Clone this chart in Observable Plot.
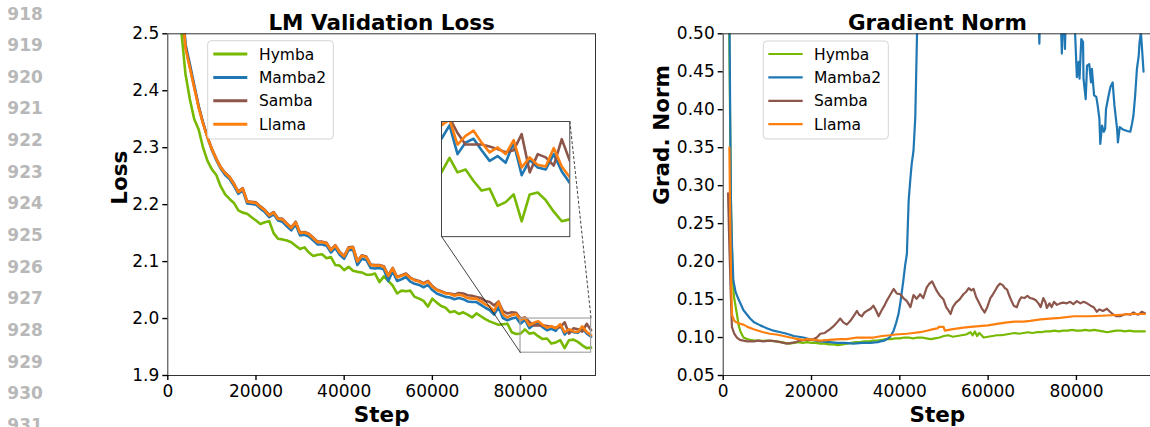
<!DOCTYPE html>
<html><head><meta charset="utf-8">
<script src="https://cdn.jsdelivr.net/npm/d3@7"></script>
<script src="https://cdn.jsdelivr.net/npm/@observablehq/plot@0.6"></script>
<style>
html,body{margin:0;padding:0;background:#fff;}
#root{position:relative;width:1150px;height:427px;overflow:hidden;background:#fff;font-family:"DejaVu Sans",sans-serif;}
#root > svg, #root > div{position:absolute;}
</style></head><body><div id="root"></div><script>
// ---------------- data ----------------
const seriesNames = ["Hymba", "Mamba2", "Samba", "Llama"];
const seriesColors = ["#76b900", "#1f77b4", "#8c564b", "#ff7f0e"];
const lineNumbers = ["918","919","920","921","922","923","924","925","926","927","928","929","930","931"];

const lossTitle = "LM Validation Loss";
const gnTitle = "Gradient Norm";
const xLabel = "Step";
const lossYLabel = "Loss";
const gnYLabel = "Grad. Norm";

const lossSteps = [
  1000,2000,3000,4000,5000,6000,7000,8000,9000,10000,
  11000,12000,13000,14000,15000,16000,17000,18000,19000,20000,
  21000,22000,23000,24000,25000,26000,27000,28000,29000,30000,
  31000,32000,33000,34000,35000,36000,37000,38000,39000,40000,
  41000,42000,43000,44000,45000,46000,47000,48000,49000,50000,
  51000,52000,53000,54000,55000,56000,57000,58000,59000,60000,
  61000,62000,63000,64000,65000,66000,67000,68000,69000,70000,
  71000,72000,73000,74000,75000,76000,77000,78000,79000,80000,
  81000,82000,83000,84000,85000,86000,87000,88000,89000,90000,
  91000,92000,93000,94000,95000,96000];
const lossHymba = [
  3.40,2.75,2.51,2.43,2.385,2.35,2.332,2.30,2.277,2.262,
  2.252,2.232,2.218,2.21,2.203,2.19,2.186,2.184,2.178,2.172,
  2.166,2.169,2.171,2.15,2.14,2.139,2.137,2.134,2.128,2.122,
  2.125,2.116,2.11,2.112,2.113,2.106,2.108,2.094,2.093,2.085,
  2.091,2.084,2.082,2.081,2.077,2.077,2.079,2.064,2.074,2.066,
  2.058,2.044,2.049,2.048,2.049,2.038,2.035,2.031,2.021,2.035,
  2.028,2.022,2.019,2.011,2.013,2.008,2.011,2.007,2.002,2.009,
  2.004,1.999,1.995,1.992,1.989,1.99,1.991,1.976,1.973,1.9735,
  1.981,1.9735,1.975,1.969,1.964,1.965,1.956,1.958,1.962,1.948,
  1.962,1.963,1.959,1.953,1.948,1.949];
const lossMamba2 = [
  3.62,2.87,2.60,2.482,2.447,2.41,2.373,2.344,2.318,2.296,
  2.278,2.263,2.252,2.245,2.233,2.219,2.225,2.202,2.201,2.2,
  2.193,2.187,2.178,2.183,2.172,2.17,2.162,2.155,2.165,2.146,
  2.147,2.144,2.137,2.13,2.13,2.128,2.116,2.124,2.112,2.105,
  2.12,2.121,2.094,2.105,2.103,2.089,2.088,2.089,2.086,2.066,
  2.083,2.066,2.069,2.073,2.065,2.061,2.059,2.055,2.059,2.05,
  2.044,2.041,2.038,2.037,2.034,2.036,2.034,2.03,2.029,2.029,
  2.024,2.019,2.015,2.007,2.02,2.001,1.997,2.0,2.002,1.991,
  1.998,1.983,1.989,1.991,1.985,1.9795,1.982,1.9785,1.989,1.972,
  1.98,1.976,1.975,1.983,1.974,1.968];
const lossSamba = [
  3.61,2.86,2.585,2.478,2.442,2.407,2.372,2.343,2.319,2.298,
  2.281,2.266,2.256,2.249,2.237,2.223,2.229,2.206,2.205,2.204,
  2.197,2.191,2.182,2.187,2.176,2.175,2.167,2.16,2.17,2.151,
  2.152,2.149,2.142,2.135,2.135,2.133,2.121,2.129,2.117,2.11,
  2.125,2.126,2.101,2.111,2.109,2.095,2.094,2.094,2.092,2.076,
  2.089,2.073,2.076,2.079,2.072,2.068,2.066,2.062,2.066,2.057,
  2.051,2.048,2.045,2.044,2.042,2.045,2.044,2.041,2.04,2.038,
  2.036,2.031,2.029,2.023,2.03,2.013,2.009,2.011,2.01,2.0,
  2.002,1.994,1.988,1.988,1.988,1.987,1.9856,1.984,1.985,1.9934,
  1.9735,1.983,1.9813,1.977,1.9908,1.9795];
const lossLlama = [
  3.60,2.85,2.58,2.475,2.44,2.405,2.37,2.342,2.318,2.297,
  2.28,2.265,2.255,2.248,2.236,2.222,2.228,2.205,2.204,2.203,
  2.196,2.19,2.181,2.186,2.175,2.174,2.166,2.159,2.169,2.15,
  2.151,2.148,2.141,2.134,2.134,2.132,2.12,2.128,2.116,2.109,
  2.124,2.125,2.1,2.11,2.108,2.094,2.093,2.093,2.091,2.075,
  2.088,2.072,2.075,2.078,2.071,2.067,2.065,2.061,2.065,2.056,
  2.05,2.047,2.044,2.043,2.04,2.042,2.04,2.036,2.035,2.035,
  2.03,2.025,2.021,2.013,2.029,2.008,2.002,2.006,2.008,1.998,
  2.001,1.988,1.9925,1.9952,1.989,1.9839,1.9865,1.983,1.9903,1.976,
  1.9813,1.9774,1.9765,1.9862,1.9765,1.9709];

const lossXDomain = [0, 97000];
const lossYDomain = [1.9, 2.5];
const lossXTicks = [0, 20000, 40000, 60000, 80000];
const lossYTicks = [1.9, 2.0, 2.1, 2.2, 2.3, 2.4, 2.5];
const zoomXDomain = [80000, 96000];
const zoomYDomain = [1.94, 2.0];

// gradient norm: [step, value]
const gnHymba = [
  [1200,0.62],[1500,0.42],[1800,0.26],[2100,0.19],[2400,0.155],[2700,0.145],[3100,0.131],[3500,0.116],[3900,0.108],
  [4600,0.100],[5400,0.098],[6100,0.097],[7000,0.096],[8000,0.096],[9000,0.0955],[10000,0.096],[11000,0.0955],
  [12000,0.095],[13000,0.094],[14000,0.093],[15000,0.092],[16000,0.093],[17000,0.094],[18000,0.093],[19000,0.094],
  [20000,0.093],[21000,0.093],[22000,0.092],[23000,0.092],[24000,0.091],[25000,0.091],[26000,0.090],[27000,0.091],
  [28000,0.092],[29000,0.093],[30000,0.094],[31000,0.094],[32000,0.095],[33000,0.095],[34000,0.096],[35000,0.096],
  [36000,0.097],[37000,0.098],[38000,0.098],[39000,0.099],[40000,0.099],[41000,0.100],[42000,0.100],[43000,0.099],
  [44000,0.100],[45000,0.100],[46000,0.099],[47000,0.098],[48000,0.099],[49000,0.100],[50000,0.102],[51000,0.103],
  [52000,0.101],[53000,0.102],[54000,0.103],[55000,0.104],[56000,0.107],[56500,0.103],[57000,0.108],[57500,0.102],
  [58000,0.106],[59000,0.100],[60000,0.101],[61000,0.102],[62000,0.103],[63000,0.103],[64000,0.104],[65000,0.105],
  [66000,0.106],[67000,0.105],[68000,0.106],[69000,0.107],[70000,0.106],[71000,0.107],[72000,0.107],[73000,0.108],
  [74000,0.108],[75000,0.109],[76000,0.108],[77000,0.109],[78000,0.109],[79000,0.110],[80000,0.109],[81000,0.109],
  [82000,0.110],[83000,0.109],[84000,0.110],[85000,0.109],[86000,0.108],[87000,0.107],[88000,0.108],[89000,0.109],
  [90000,0.109],[91000,0.108],[92000,0.109],[93000,0.108],[94000,0.108],[95000,0.108],[95500,0.108]];
const gnMamba2 = [
  [1200,0.75],[1450,0.50],[1600,0.38],[1750,0.28],[2000,0.22],[2300,0.175],[2800,0.16],[3500,0.15],[4600,0.136],
  [6100,0.125],[7000,0.12],[8400,0.116],[10000,0.112],[11400,0.109],[13000,0.107],[14400,0.105],[16000,0.102],
  [18200,0.1],[20000,0.097],[22000,0.095],[24000,0.094],[25800,0.093],[27500,0.093],[29500,0.092],[31500,0.093],
  [33300,0.093],[35000,0.094],[35600,0.095],[36500,0.096],[37100,0.098],[37800,0.101],[38600,0.109],[39200,0.12],
  [39700,0.131],[40100,0.145],[40500,0.162],[40800,0.175],[41200,0.195],[41600,0.21],[42000,0.28],[42400,0.31],
  [42700,0.329],[43100,0.346],[43500,0.39],[43900,0.5],[44300,0.6],[45000,0.7],[50000,0.78],[55000,0.85],
  [60000,0.8],[65000,0.72],[70000,0.62],[71300,0.56],[71600,0.487],[71900,0.56],[74000,0.62],[76400,0.53],
  [76700,0.474],[76900,0.53],[77200,0.51],[77400,0.48],[77700,0.55],[79000,0.56],[79700,0.5],[80100,0.443],
  [80500,0.463],[80700,0.441],[81100,0.493],[81500,0.489],[81600,0.441],[82100,0.414],[82400,0.458],[82900,0.46],
  [83300,0.436],[83500,0.454],[84000,0.419],[84500,0.417],[84800,0.406],[85200,0.388],[85400,0.355],[85800,0.379],
  [86200,0.371],[86500,0.375],[86700,0.401],[87300,0.419],[87700,0.43],[88200,0.436],[88600,0.406],[89200,0.375],
  [89400,0.357],[89800,0.377],[90500,0.374],[91500,0.372],[92200,0.371],[92600,0.382],[92900,0.392],[93300,0.419],
  [93700,0.454],[94100,0.471],[94300,0.489],[94600,0.502],[94800,0.485],[95200,0.45]];
const gnSamba = [
  [1100,0.29],[1400,0.22],[1700,0.16],[1970,0.114],[2500,0.105],[3100,0.1],[3800,0.097],[4600,0.096],[5500,0.095],
  [6900,0.095],[8000,0.096],[9000,0.095],[10600,0.096],[12000,0.095],[13000,0.094],[14400,0.092],[15500,0.093],
  [16500,0.094],[17400,0.096],[18500,0.097],[19500,0.097],[20500,0.098],[21200,0.1],[22000,0.105],[23000,0.106],
  [24200,0.111],[25000,0.115],[25800,0.12],[26500,0.125],[27200,0.12],[28000,0.117],[28800,0.122],[29500,0.128],
  [30300,0.135],[30800,0.13],[31400,0.128],[32000,0.133],[32800,0.136],[33400,0.138],[34000,0.142],[34600,0.136],
  [35200,0.128],[35800,0.135],[36500,0.142],[37100,0.149],[37700,0.155],[38600,0.164],[39300,0.158],[40100,0.157],
  [40800,0.152],[41600,0.148],[42400,0.14],[43100,0.156],[43800,0.151],[44600,0.157],[45300,0.152],[46100,0.166],
  [46700,0.171],[47300,0.174],[47900,0.167],[48400,0.161],[49100,0.155],[49900,0.15],[50500,0.14],[51100,0.135],
  [51500,0.131],[52000,0.14],[52700,0.146],[53500,0.15],[54400,0.157],[55000,0.16],[55600,0.165],[56200,0.162],
  [56700,0.164],[57300,0.153],[58000,0.145],[58600,0.138],[59200,0.133],[59800,0.14],[60500,0.152],[61000,0.156],
  [61600,0.162],[62200,0.168],[62700,0.171],[63300,0.169],[63800,0.165],[64300,0.163],[64800,0.155],[65300,0.148],
  [65800,0.142],[66500,0.14],[67000,0.148],[67500,0.153],[68200,0.152],[68900,0.155],[69500,0.152],[70200,0.151],
  [70800,0.149],[71400,0.145],[71900,0.14],[72500,0.152],[73000,0.146],[73300,0.139],[73900,0.145],[74400,0.14],
  [74900,0.147],[75600,0.143],[76300,0.145],[77000,0.146],[77800,0.145],[78600,0.147],[79300,0.144],[80100,0.148],
  [80900,0.145],[81600,0.147],[82400,0.145],[83200,0.142],[83900,0.14],[84600,0.134],[85200,0.137],[86000,0.135],
  [86900,0.138],[87600,0.134],[88400,0.13],[89100,0.128],[89900,0.128],[90700,0.13],[91400,0.131],[92200,0.13],
  [92900,0.133],[93500,0.131],[94000,0.13],[94800,0.134],[95500,0.132]];
const gnLlama = [
  [1400,0.35],[1600,0.25],[1800,0.17],[2000,0.13],[2500,0.122],[3000,0.12],[3900,0.118],[4600,0.117],[5500,0.114],
  [6900,0.111],[8000,0.109],[9100,0.107],[10600,0.105],[12000,0.104],[12900,0.103],[14400,0.101],[16000,0.099],
  [17000,0.098],[18200,0.097],[19000,0.098],[20500,0.097],[22000,0.096],[24000,0.097],[26500,0.098],[28000,0.098],
  [30300,0.1],[32000,0.1],[34000,0.1],[36000,0.102],[37800,0.103],[39000,0.104],[41600,0.105],[43000,0.106],
  [44600,0.107],[46100,0.109],[47600,0.111],[48500,0.112],[48800,0.114],[49900,0.114],[50200,0.109],[52000,0.111],
  [54400,0.113],[56000,0.114],[58000,0.115],[60000,0.116],[62000,0.118],[64300,0.12],[66000,0.121],[68000,0.121],
  [69500,0.122],[71900,0.124],[74000,0.125],[76300,0.126],[79400,0.128],[83000,0.128],[86900,0.129],[90000,0.13],
  [92500,0.131],[94500,0.131],[95500,0.131]];

const gnXDomain = [0, 97000];
const gnYDomain = [0.05, 0.5];
const gnXTicks = [0, 20000, 40000, 60000, 80000];
const gnYTicks = [0.05, 0.10, 0.15, 0.20, 0.25, 0.30, 0.35, 0.40, 0.45, 0.50];

// ---------------- tables ----------------
const lossValues = [lossHymba, lossMamba2, lossSamba, lossLlama];
const lossTable = [];
seriesNames.forEach((name, i) => lossSteps.forEach((s, j) => lossTable.push({series: name, step: s, value: lossValues[i][j]})));
const gnValues = [gnHymba, gnMamba2, gnSamba, gnLlama];
const gnTable = [];
seriesNames.forEach((name, i) => gnValues[i].forEach(([s, v]) => gnTable.push({series: name, step: s, value: v})));

// ---------------- layout ----------------
const W = 1150, H = 427;
const root = document.getElementById("root");
const FONT = "DejaVu Sans";
const colorScale = {domain: seriesNames, range: seriesColors};

// left panel geometry
const LP = {left: 0, width: 610, mL: 167.3, mR: 15, mT: 33.3, mB: 52};
// right panel geometry
const RP = {left: 610, width: 560, mL: 112.7, mR: 19, mT: 33.3, mB: 52};
// inset axes, in fractions of the left axes: [x0, y0 (from bottom), w, h]
const insetAxes = [0.64, 0.407, 0.30, 0.337];

const fracX = f => lossXDomain[0] + f * (lossXDomain[1] - lossXDomain[0]);
const fracY = f => lossYDomain[0] + f * (lossYDomain[1] - lossYDomain[0]);
const zoomRect = [{x1: zoomXDomain[0], x2: zoomXDomain[1], y1: zoomYDomain[0], y2: zoomYDomain[1]}];
const connectors = [
  {x1: fracX(insetAxes[0]), y1: fracY(insetAxes[1]), x2: zoomXDomain[0], y2: zoomYDomain[0], dash: "none"},
  {x1: fracX(insetAxes[0] + insetAxes[2]), y1: fracY(insetAxes[1] + insetAxes[3]), x2: zoomXDomain[1], y2: zoomYDomain[1], dash: "3,2"}
];

const commonStyle = {fontFamily: FONT, fontSize: "17px", color: "#000", background: "transparent", overflow: "visible"};

function axes(xTicks, yTicks, yFmt) {
  return [
    Plot.axisX({ticks: xTicks, tickFormat: d => String(d), tickSize: 5, tickPadding: 4, fontSize: 17, label: null, strokeWidth: 1.4}),
    Plot.axisY({ticks: yTicks, tickFormat: yFmt, tickSize: 5, tickPadding: 3.5, fontSize: 17, label: null, strokeWidth: 1.4})
  ];
}
function labels(title, ylab, ydx) {
  return [
    Plot.text([title], {text: d => d, frameAnchor: "top", dy: -4.3, lineAnchor: "bottom", fontSize: 21.5, fontWeight: "bold"}),
    Plot.text([xLabel], {text: d => d, frameAnchor: "bottom", dy: 46, lineAnchor: "bottom", fontSize: 21.5, fontWeight: "bold"}),
    Plot.text([ylab], {text: d => d, frameAnchor: "left", dx: ydx, rotate: -90, lineAnchor: "bottom", fontSize: 21.5, fontWeight: "bold"})
  ];
}

const lossPlot = Plot.plot({
  width: LP.width, height: H,
  marginLeft: LP.mL, marginRight: LP.mR, marginTop: LP.mT, marginBottom: LP.mB,
  style: commonStyle,
  x: {domain: lossXDomain},
  y: {domain: lossYDomain},
  color: colorScale,
  marks: [
    Plot.line(lossTable, {x: "step", y: "value", z: "series", stroke: "series", strokeWidth: 2.6, clip: true}),
    Plot.rect(zoomRect, {x1: "x1", x2: "x2", y1: "y1", y2: "y2", fill: "none", stroke: "#a5a5a5", strokeWidth: 1.2}),
    Plot.link(connectors.slice(0, 1), {x1: "x1", y1: "y1", x2: "x2", y2: "y2", stroke: "#111", strokeWidth: 0.8}),
    Plot.link(connectors.slice(1), {x1: "x1", y1: "y1", x2: "x2", y2: "y2", stroke: "#111", strokeWidth: 0.8, strokeDasharray: "3,2"}),
    Plot.frame({stroke: "#333", strokeWidth: 1}),
    ...axes(lossXTicks, lossYTicks, d3.format(".1f")),
    ...labels(lossTitle, lossYLabel, -41.3)
  ]
});
lossPlot.style.left = LP.left + "px"; lossPlot.style.top = "0px";
root.appendChild(lossPlot);

// inset
const pw = LP.width - LP.mL - LP.mR, ph = H - LP.mT - LP.mB;
const inLeft = LP.left + LP.mL + insetAxes[0] * pw;
const inTop = LP.mT + (1 - insetAxes[1] - insetAxes[3]) * ph;
const inW = insetAxes[2] * pw, inH = insetAxes[3] * ph;
const insetPlot = Plot.plot({
  width: inW, height: inH, margin: 0,
  style: {background: "#fff", overflow: "visible"},
  x: {domain: zoomXDomain, axis: null},
  y: {domain: zoomYDomain, axis: null},
  color: colorScale,
  marks: [
    Plot.line(lossTable.filter(d => d.step >= zoomXDomain[0] - 1000), {x: "step", y: "value", z: "series", stroke: "series", strokeWidth: 2.6, clip: true}),
    Plot.frame({stroke: "#444", strokeWidth: 1})
  ]
});
insetPlot.style.left = inLeft + "px"; insetPlot.style.top = inTop + "px";
insetPlot.style.width = inW + "px"; insetPlot.style.height = inH + "px";
root.appendChild(insetPlot);

const gnPlot = Plot.plot({
  width: RP.width, height: H,
  marginLeft: RP.mL, marginRight: RP.mR, marginTop: RP.mT, marginBottom: RP.mB,
  style: Object.assign({}, commonStyle, {maxWidth: "none"}),
  x: {domain: gnXDomain},
  y: {domain: gnYDomain},
  color: colorScale,
  marks: [
    Plot.line(gnTable, {x: "step", y: "value", z: "series", stroke: "series", strokeWidth: 2.2, clip: true}),
    Plot.frame({stroke: "#333", strokeWidth: 1}),
    ...axes(gnXTicks, gnYTicks, d3.format(".2f")),
    ...labels(gnTitle, gnYLabel, -54.7)
  ]
});
gnPlot.style.left = RP.left + "px"; gnPlot.style.top = "0px";
root.appendChild(gnPlot);

// legends
function legend(x, y, w, h, lineX1, lineX2, textX, rowY, lw) {
  const svg = d3.create("svg").attr("width", W).attr("height", H)
    .style("left", "0px").style("top", "0px").style("pointer-events", "none");
  svg.append("rect").attr("x", x).attr("y", y).attr("width", w).attr("height", h)
    .attr("rx", 3.5).attr("fill", "rgba(255,255,255,0.85)").attr("stroke", "#d4d4d4").attr("stroke-width", 1);
  seriesNames.forEach((name, i) => {
    const cy = rowY[i];
    svg.append("line").attr("x1", lineX1).attr("x2", lineX2).attr("y1", cy).attr("y2", cy)
      .attr("stroke", seriesColors[i]).attr("stroke-width", lw);
    svg.append("text").attr("x", textX).attr("y", cy + 5.6).attr("font-family", FONT)
      .attr("font-size", 15.5).attr("fill", "#000").text(name);
  });
  root.appendChild(svg.node());
}
legend(207.7, 40.7, 125.6, 98.3, 213.3, 247.3, 259, [54, 77.4, 100.8, 124.2], 3);
legend(763.3, 41, 125, 98, 768.3, 802.7, 814, [54, 77.4, 100.8, 124.2], 2.2);

// line numbers
const ln = d3.create("svg").attr("width", 60).attr("height", H).style("left", "0px").style("top", "0px");
lineNumbers.forEach((t, i) => {
  ln.append("text").attr("x", 7.3).attr("y", 13.3 + i * 31.64 + 6.2)
    .attr("font-family", FONT).attr("font-weight", "bold").attr("font-size", 17).attr("fill", "#b8b8b8").text(t);
});
root.appendChild(ln.node());
</script></body></html>
